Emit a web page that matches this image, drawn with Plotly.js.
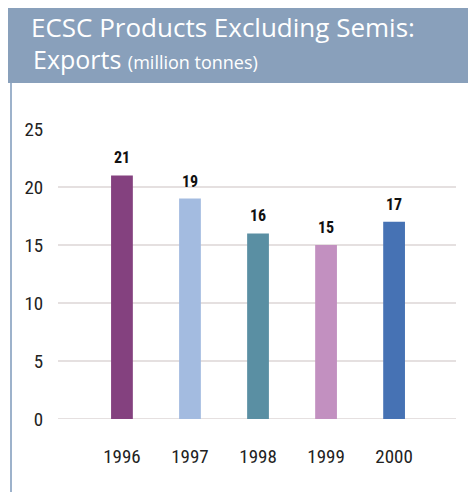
<!DOCTYPE html>
<html>
<head>
<meta charset="utf-8">
<script src="https://cdn.plot.ly/plotly-3.0.1.min.js"></script>
<style>html,body{margin:0;padding:0;background:#fff;}#chart{width:468px;height:495px;}</style>
</head>
<body>
<div id="chart"></div>
<script>
const years = ["1996", "1997", "1998", "1999", "2000"];
const exports = [21, 19, 16, 15, 17];
const barColors = ["#84417f", "#a3bbe0", "#5a8fa3", "#c290c0", "#4672b4"];
const yTicks = [0, 5, 10, 15, 20, 25];
const gridValues = [0, 5, 10, 15, 20];

const narrow = "Roboto Condensed, DejaVu Sans Condensed, sans-serif";
const head = "Open Sans, sans-serif";

const trace = {
  type: "bar",
  x: years,
  y: exports,
  width: 0.32,
  marker: { color: barColors },
  hoverinfo: "skip"
};

const shapes = [
  { type: "rect", xref: "paper", yref: "paper", x0: -0.1256, x1: 1.0302, y0: 1.1586, y1: 1.417,
    fillcolor: "#89a0bb", line: { width: 0 }, layer: "below" },
  { type: "line", xref: "paper", yref: "paper", x0: -0.1181, x1: -0.1181, y0: 1.1586, y1: -0.2517,
    line: { color: "#9db2cb", width: 2 } }
];
gridValues.forEach(v => shapes.push({
  type: "line", xref: "paper", yref: "y", x0: 0, x1: 1, y0: v, y1: v,
  line: { color: "#e5e0e0", width: 2 }, layer: "below"
}));

const annotations = exports.map((v, i) => ({
  x: i, y: v, xref: "x", yref: "y",
  text: "<b>" + v + "</b>", showarrow: false,
  yanchor: "bottom", yshift: 6,
  font: { family: narrow, size: 16, color: "#111" }
}));
annotations.push({
  xref: "paper", yref: "paper", x: -0.0628, y: (419 - 59) / 290, xanchor: "left", yanchor: "middle",
  xshift: -1, borderpad: 0,
  text: "Exports <span style='font-size:18px'>(million tonnes)</span>",
  showarrow: false, font: { family: head, size: 25, color: "#ffffff" }
});

const layout = {
  width: 468, height: 495,
  margin: { l: 58, r: 12, t: 129, b: 76 },
  paper_bgcolor: "#ffffff", plot_bgcolor: "rgba(0,0,0,0)",
  showlegend: false,
  title: {
    text: "ECSC Products Excluding Semis:",
    xref: "container", yref: "container", x: 31 / 468, xanchor: "left",
    y: 1 - 28 / 495, yanchor: "middle",
    font: { family: head, size: 26, color: "#ffffff" }
  },
  xaxis: {
    type: "category", range: [-0.94, 4.91],
    showgrid: false, zeroline: false, showline: false,
    ticks: "outside", ticklen: 20, tickcolor: "rgba(0,0,0,0)",
    tickfont: { family: narrow, size: 19, color: "#222" }
  },
  yaxis: {
    range: [0, 25], tickvals: yTicks, ticktext: yTicks.map(String),
    showgrid: false, zeroline: false, showline: false,
    ticks: "outside", ticklen: 10, tickcolor: "rgba(0,0,0,0)",
    tickfont: { family: narrow, size: 19, color: "#222" }
  },
  shapes: shapes,
  annotations: annotations
};

Plotly.newPlot("chart", [trace], layout, { displayModeBar: false, staticPlot: true });
</script>
</body>
</html>
